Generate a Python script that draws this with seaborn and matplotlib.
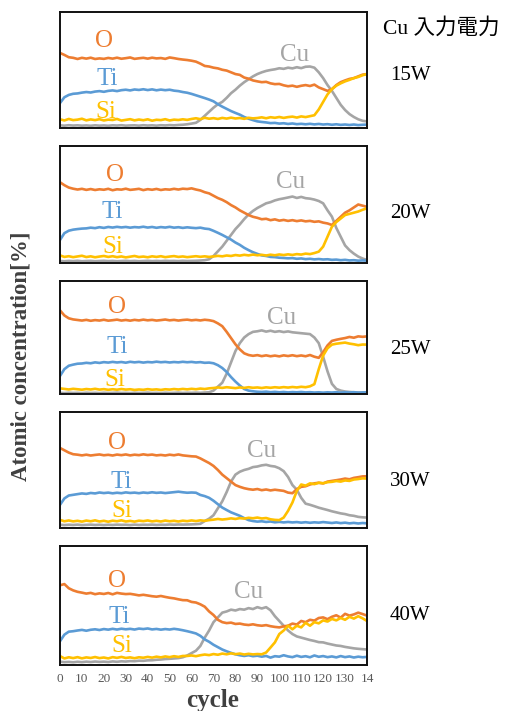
import matplotlib
matplotlib.use("Agg")
import matplotlib.pyplot as plt
import seaborn as sns
import pandas as pd

# ---------------- data (every 2 cycles) ----------------
cycles = list(range(0, 141, 2))
panel_names = ["15W", "20W", "25W", "30W", "40W"]
elements = ["Cu", "O", "Ti", "Si"]
xtick_vals = [0, 10, 20, 30, 40, 50, 60, 70, 80, 90, 100, 110, 120, 130, 140]
xtick_labels = ["0", "10", "20", "30", "40", "50", "60", "70", "80", "90",
                "100", "110", "120", "130", "14"]

O_15W = [64.7, 63, 61, 60.5, 59.5, 60.5, 59.8, 60.6, 59.5, 60, 59.6, 60.4, 59.8, 60.6, 59.7, 60.2, 60.8, 59.6,
         60.1, 60.5, 59.8, 60.6, 60, 60.3, 59.6, 60.8, 60.2, 59.5, 59, 58.6, 58, 57.2, 55.5, 53.5, 53, 52,
         51.4, 50.2, 49.5, 48, 46.5, 45.8, 43.5, 42.5, 41, 40.2, 39.5, 39.8, 38.5, 37.8, 38, 36.8, 36, 36.5,
         35.5, 36.4, 37, 36.2, 37.4, 35, 33.5, 32, 33.5, 37, 39.5, 41, 42.3, 43, 44.5, 46, 46.5]
Ti_15W = [21.5, 26.5, 28.5, 29.5, 29.8, 30.5, 31, 30.6, 31.4, 31.8, 31.2, 32, 32.4, 31.8, 32.6, 33, 32.4, 33.2,
          32.8, 33.4, 32.7, 33.3, 32.5, 33.1, 32.6, 33, 32.2, 31.8, 31, 30.4, 29.4, 28.2, 27, 25.8, 24.5, 23,
          20.5, 18.4, 16.5, 14.6, 13, 11.5, 9.5, 8, 6.8, 5.7, 5.2, 4.8, 4.2, 4.4, 3.8, 4.1, 3.5, 3.9,
          3.3, 3.6, 3.2, 3.6, 3.1, 3.5, 3, 3.3, 2.8, 3.2, 2.7, 3, 2.6, 3, 2.5, 2.8, 2.9]
Si_15W = [7.5, 6.5, 7.8, 6.8, 7.2, 8, 6.6, 7.4, 6.8, 7.6, 6.5, 7.2, 6.9, 7.8, 6.4, 7, 7.6, 6.6,
          7.3, 6.7, 7.5, 6.3, 7.1, 6.8, 7.6, 6.5, 7.2, 6.9, 7.5, 7, 7.8, 8.4, 7.6, 8.8, 8, 8.5,
          7.8, 8.7, 8.1, 8.9, 8.2, 8.6, 7.9, 8.8, 8.3, 8.6, 9.2, 8.4, 9.3, 8.8, 9.5, 8.7, 9.4, 9.8,
          9, 10, 9.4, 10.2, 11, 16, 22.5, 29, 33.5, 36.5, 38.5, 40.2, 41.5, 43, 44, 45.5, 46.5]
Cu_15W = [2.3, 2, 2.4, 2.1, 2.3, 2, 2.2, 1.9, 2.3, 2, 2.2, 1.9, 2.3, 2.1, 2.4, 2, 2.2, 2.3,
          2, 2.4, 2.1, 2.3, 2, 2.4, 2.2, 2.5, 2.3, 2.6, 2.8, 3.2, 3.8, 4.5, 7, 10.5, 14, 17.5,
          20.5, 22.5, 26, 30, 33, 36.5, 39.5, 42, 44.5, 46.5, 48, 49.2, 50, 50.6, 51.5, 51, 52, 51.4,
          52.4, 51.6, 52.8, 53, 52, 48, 43, 37, 32, 26, 20, 15.5, 12, 9.5, 7.5, 6.2, 5.7]

O_20W = [69, 66.5, 64.5, 63.5, 62.8, 63.4, 62.5, 63.2, 62.4, 63, 62.6, 63.4, 62.2, 63, 62.7, 63.5, 62.5, 62.9,
         63.4, 62.3, 63.1, 62.6, 63.3, 62.4, 63, 62.7, 63.4, 62.8, 63.5, 63.2, 63.8, 62.8, 62, 60.5, 59.5, 57.5,
         55.5, 54, 52, 49.5, 47.5, 45, 43, 41, 39.5, 38.6, 37.4, 37.8, 36.6, 37.3, 36.2, 36.8, 36, 36.6,
         35.8, 36.4, 35.6, 36, 35.2, 35.6, 34.5, 33.8, 32.5, 36, 39.5, 43, 45, 47.5, 50, 49, 48]
Ti_20W = [19.7, 25.5, 27.6, 28.5, 29, 29.4, 29.6, 30.2, 29.8, 30.6, 30, 30.8, 30.3, 30.9, 30.4, 30.8, 30.2, 30.7,
          30.4, 31, 30.3, 30.8, 30.1, 30.7, 30.3, 30.9, 30.2, 30.6, 30, 30.5, 30.1, 29.8, 30.2, 29.4, 29, 27.5,
          25.8, 24, 22, 20, 17.5, 15.5, 13, 11, 9.2, 7.8, 6.5, 6, 5.2, 5, 4.5, 4.3, 4, 4.2,
          3.6, 3.9, 3.3, 3.6, 3.1, 3.4, 3, 3.2, 2.7, 2.9, 2.4, 2.7, 2.2, 2.4, 2, 2.2, 2]
Si_20W = [6.5, 5.2, 5.8, 5, 5.6, 6.2, 5.1, 5.7, 4.9, 5.5, 6, 5.2, 5.8, 5, 5.6, 4.8, 5.4, 6,
          5.1, 5.5, 4.9, 5.7, 5.2, 5.8, 5, 5.5, 5.9, 5.2, 5.6, 5, 5.4, 5.8, 5.3, 5.7, 5.2, 5.6,
          6.1, 5.7, 6.4, 6, 6.8, 6.3, 7, 6.5, 7.2, 6.6, 7, 6.4, 7.1, 6.6, 7.3, 6.8, 7.4, 6.9,
          7.6, 7.2, 8, 7.6, 8.5, 9.7, 14, 22.5, 31, 35, 38, 41, 42, 43, 44, 45.5, 46.7]
Cu_20W = [1.7, 1.5, 1.8, 1.6, 1.9, 1.5, 1.7, 1.8, 1.5, 1.7, 1.9, 1.6, 1.8, 1.5, 1.7, 1.9, 1.6, 1.8,
          1.5, 1.7, 1.9, 1.6, 1.8, 1.6, 1.9, 1.7, 1.8, 1.6, 1.9, 1.7, 1.8, 1.9, 2.1, 2.4, 3.2, 6,
          10, 14, 19, 24, 29, 33, 37.5, 41.5, 44.5, 47, 49, 51, 52, 53.5, 54.5, 55.2, 56, 56.8,
          55.6, 56.5, 55.4, 55, 54.2, 53, 51, 45, 39.6, 30, 22.5, 15, 11, 8, 5.5, 3.8, 2.6]

O_25W = [74, 69.5, 67, 66, 65.5, 65, 65.6, 64.8, 65.4, 65, 65.7, 64.9, 65.3, 65.8, 65, 65.5, 64.9, 65.6,
         65.1, 65.8, 65.2, 65.6, 65, 65.4, 65.9, 65.2, 65.6, 65, 65.5, 65.8, 65.2, 65.6, 65.1, 65.7, 65.3, 64.5,
         62.5, 60, 55, 49.5, 44, 39.5, 36, 34.5, 33.8, 34.4, 33.5, 34.2, 33.4, 34, 33.3, 34.2, 33.6, 34.3,
         33.5, 34.1, 33.4, 34.5, 33, 32, 37, 43, 47, 48, 48.8, 49.5, 50.5, 49.8, 51, 50.6, 51]
Ti_25W = [16, 22, 25, 26, 26.8, 27, 27.6, 27.2, 28, 27.5, 28.2, 27.8, 28.4, 27.9, 28.3, 27.7, 28.5, 28,
          28.4, 27.8, 28.3, 28, 28.6, 28.1, 28.4, 27.9, 28.3, 28, 28.5, 28.1, 28.4, 27.9, 28.2, 27.6, 27.8, 27.2,
          25.5, 23, 19.5, 15, 11, 7.5, 4.4, 3, 2.4, 2, 1.8, 2.1, 1.6, 1.9, 1.5, 1.8, 1.4, 1.7,
          1.5, 1.8, 1.4, 1.6, 1.3, 1.5, 1.2, 1.5, 1.3, 1.6, 1.2, 1.5, 1.3, 1.6, 1.2, 1.4, 1.5]
Si_25W = [5, 4.5, 4, 4.6, 4.2, 3.8, 4.4, 4, 4.6, 3.9, 4.3, 3.7, 4.2, 3.8, 4.4, 3.9, 4.2, 3.6,
          4, 3.7, 4.3, 3.8, 4.1, 3.6, 4.2, 3.9, 4.4, 4, 4.5, 4.1, 4.6, 4.2, 4.8, 4.4, 5, 5.3,
          5.8, 5.4, 6, 5.6, 5.2, 5.8, 5.4, 6, 5.5, 5.8, 5.3, 5.9, 5.5, 6, 5.6, 6.1, 5.7, 6.2,
          5.8, 6.4, 6, 6.8, 8.7, 22, 34, 40.5, 43.7, 44.5, 45, 45.5, 44.6, 44, 43.2, 43.8, 43.7]
Cu_25W = [1, 0.8, 1.1, 0.9, 1, 0.8, 1.1, 0.9, 1, 0.8, 1.1, 0.9, 1, 1.2, 0.9, 1, 0.8, 1.1,
          0.9, 1, 1.2, 0.9, 1, 0.8, 1.1, 0.9, 1, 1.2, 0.9, 1.1, 1, 1.2, 1, 1.3, 1.5, 3,
          6.5, 10, 18, 28, 38, 45, 50, 53, 55, 55.5, 56.3, 55.2, 56, 55, 55.6, 54.8, 55.4, 54.6,
          54.2, 53.8, 53.4, 53, 50, 45, 33, 20, 9, 4.5, 3, 2.2, 1.8, 1.5, 1.3, 1.2, 1]

O_30W = [69, 67, 65, 63.6, 63.2, 62.6, 63.2, 62.5, 63, 63.4, 62.7, 63.1, 62.5, 63.3, 62.8, 63.4, 62.6, 63.2,
         62.8, 63.5, 62.9, 63.3, 62.6, 63, 62.5, 63.2, 62.7, 63.4, 62.6, 62.2, 61.8, 61.6, 60, 58, 56, 53.5,
         50, 46, 43, 40, 37, 35.5, 34.3, 33.5, 33, 33.6, 32.6, 33.2, 32.4, 33, 32.5, 32, 30.5, 30,
         33.5, 35.5, 36, 37.5, 38.5, 39, 38.4, 40, 40.6, 41.2, 41.8, 42.6, 42, 43.2, 43.8, 44.5, 44.6]
Ti_30W = [20, 25.5, 28, 28.6, 29.2, 29.8, 29.4, 30.2, 29.8, 30.6, 30.1, 30.5, 29.9, 30.4, 30, 30.7, 30.2, 30.5,
          30, 30.6, 30.2, 30.8, 30.3, 30.6, 30.1, 30.5, 30.9, 31.3, 30.8, 30.4, 30.6, 30.4, 28.5, 27.5, 26, 23.5,
          20.5, 17.6, 15.5, 13.5, 12, 10.5, 8.5, 6.8, 6, 5.5, 5.8, 5.2, 5.6, 4.9, 5.3, 4.8, 5.2, 4.8,
          5.1, 4.6, 5, 4.5, 4.9, 4.6, 5.1, 4.7, 4.3, 4.8, 4.2, 4.6, 4, 4.4, 3.9, 4.3, 4]
Si_30W = [7, 5.8, 6.5, 5.7, 6.2, 5.5, 6.4, 5.8, 6.6, 5.6, 6.2, 5.4, 6.3, 5.8, 6.6, 5.6, 6.1, 5.5,
          6.3, 5.9, 6.5, 5.7, 6.2, 5.6, 6.4, 5.8, 6.2, 5.6, 6.3, 5.9, 6.5, 6, 6.6, 6.2, 6.8, 7.2,
          7.8, 7.3, 7.7, 8.3, 7.8, 8.5, 8.1, 8.8, 8.4, 9, 8.2, 8.6, 7.5, 7, 6.8, 9, 14.8, 22,
          32, 37.5, 36.5, 38.5, 37.8, 39, 38.6, 39.5, 39.8, 40.5, 40, 41, 40.6, 41.8, 42.2, 42.8, 42.6]
Cu_30W = [2.8, 2.5, 2.8, 2.6, 2.9, 2.5, 2.7, 2.9, 2.6, 2.8, 2.5, 2.8, 2.6, 2.9, 2.7, 2.8, 2.5, 2.9,
          2.6, 2.8, 2.7, 2.9, 2.6, 2.8, 2.7, 3, 2.8, 3, 2.9, 3, 3.1, 3.3, 3.6, 6, 8, 11,
          17, 23, 31, 40, 46, 48.5, 50, 51, 52.5, 53, 54, 54.5, 53.5, 53, 51.5, 49, 44, 37,
          33, 26, 21, 20, 18.8, 17.5, 16.5, 15.5, 14.4, 13.5, 12.6, 12, 11, 10.5, 9.6, 9.2, 9]

O_40W = [67, 68, 64.5, 62.7, 61.5, 60.8, 60, 60.6, 59.5, 60.2, 59.7, 60.5, 59.4, 60.6, 60, 59.6, 59.8, 59.2,
         58.5, 59, 58.4, 57.8, 57.4, 58, 57.2, 56.5, 56, 55.2, 54.5, 54.4, 53, 52.5, 51, 49, 45, 42,
         38, 36, 35.2, 35.6, 34.5, 34.8, 34, 33.6, 34.2, 33.4, 33, 33.5, 32.6, 32, 31.6, 32.5, 33, 34.8,
         34, 37, 36, 38, 37.3, 39.5, 40, 38.5, 40.5, 41.8, 39.8, 43, 41.5, 42.5, 44, 42.8, 41.5]
Ti_40W = [20, 25.5, 28, 28.4, 29, 29.5, 28.8, 29.6, 30, 29.4, 30.2, 29.7, 30.4, 29.8, 30.5, 30, 30.4, 29.8,
          30.6, 30.2, 30.7, 29.9, 30.3, 29.7, 30.2, 29.8, 30.4, 29.9, 29.2, 28.4, 27.5, 26.5, 24.5, 21.5, 19.5, 17,
          15, 13, 11.5, 10.2, 9, 8.2, 7.6, 8.2, 7.4, 7.8, 7, 7.6, 6.2, 7.4, 7, 8.2, 7.2, 6.6,
          7.8, 6.8, 7.4, 6.5, 8, 6.9, 7.5, 6.6, 7.2, 6.4, 7.5, 6.6, 7.2, 6.3, 7, 6.5, 6.8]
Si_40W = [7.5, 5.5, 6.5, 5.8, 6.6, 5.6, 6.4, 5.9, 6.7, 5.8, 6.3, 5.5, 6.6, 6, 6.8, 5.9, 6.4, 5.7,
          6.5, 6.1, 6.8, 6.2, 7, 6.4, 7.2, 6.6, 7.4, 6.8, 7.6, 7.6, 8, 7.4, 8.2, 8.8, 8.3, 9.2,
          8.6, 9.6, 9, 9.8, 9.1, 9.6, 8.8, 9.4, 8.9, 9.2, 9, 10.5, 14.7, 19, 26, 29, 33, 30,
          33, 31.6, 35.5, 33, 36, 35, 37.5, 36.5, 38.7, 37.5, 39.5, 38, 40.5, 39, 41, 39.2, 37]
Cu_40W = [2.8, 2.4, 2.6, 2.3, 2.7, 2.4, 2.8, 2.5, 2.9, 2.6, 2.8, 2.5, 3, 2.7, 3.1, 2.9, 3.3, 3.2,
          3.6, 3.5, 3.9, 4, 4.4, 4.6, 5, 5.2, 5.5, 5.8, 6.5, 8, 10, 12, 16, 23, 29, 36,
          40, 44, 45, 46.5, 45.8, 47, 46.5, 47.8, 47, 48.6, 47.5, 48.6, 46, 41, 37, 33, 29, 26,
          24, 23, 22, 21, 20.2, 19.2, 19, 18, 17.2, 16.4, 16, 15.2, 14.6, 14, 13.6, 13.3, 13]

panel_series = {
    "15W": {"O": O_15W, "Ti": Ti_15W, "Si": Si_15W, "Cu": Cu_15W},
    "20W": {"O": O_20W, "Ti": Ti_20W, "Si": Si_20W, "Cu": Cu_20W},
    "25W": {"O": O_25W, "Ti": Ti_25W, "Si": Si_25W, "Cu": Cu_25W},
    "30W": {"O": O_30W, "Ti": Ti_30W, "Si": Si_30W, "Cu": Cu_30W},
    "40W": {"O": O_40W, "Ti": Ti_40W, "Si": Si_40W, "Cu": Cu_40W},
}

# label anchor positions (cycle, value) for the in-plot element names
label_pos = {
    "15W": {"O": (20, 75), "Ti": (21.5, 42.5), "Si": (21, 14), "Cu": (107, 63)},
    "20W": {"O": (25, 75), "Ti": (24, 44), "Si": (24, 14), "Cu": (105, 69)},
    "25W": {"O": (26, 77), "Ti": (26, 42), "Si": (25, 12), "Cu": (101, 67)},
    "30W": {"O": (26, 73), "Ti": (28, 40), "Si": (28, 15), "Cu": (92, 66)},
    "40W": {"O": (26, 71), "Ti": (27, 40), "Si": (28, 16), "Cu": (86, 61)},
}

colors = {"O": "#ED7D31", "Ti": "#5B9BD5", "Si": "#FFC000", "Cu": "#A5A5A5"}

# ---------------- drawing ----------------
sns.set_style("white")
plt.rcParams["font.family"] = ["Liberation Serif", "Noto Sans CJK JP", "DejaVu Sans"]

W, H = 509, 711
fig = plt.figure(figsize=(W / 100, H / 100), dpi=100)

# panel pixel boxes (top, bottom)
boxes = [(12, 128), (146, 263), (281, 394), (412, 528), (546, 665)]
x0, x1 = 60, 367
right_label_y = [75, 213, 350, 481, 615]

for i, name in enumerate(panel_names):
    top, bot = boxes[i]
    ax = fig.add_axes([x0 / W, 1 - bot / H, (x1 - x0) / W, (bot - top) / H])
    rows = []
    for el in elements:
        for c, v in zip(cycles, panel_series[name][el]):
            rows.append({"cycle": c, "value": v, "element": el})
    df = pd.DataFrame(rows)
    sns.lineplot(data=df, x="cycle", y="value", hue="element", hue_order=elements,
                 palette=colors, linewidth=1.9, legend=False, ax=ax)
    ax.set_xlim(0, 140)
    ax.set_ylim(0, 100)
    ax.set_yticks([])
    ax.set_xlabel("")
    ax.set_ylabel("")
    for s in ax.spines.values():
        s.set_color("#111111")
        s.set_linewidth(1.4)
    if i == len(panel_names) - 1:
        ax.set_xticks(xtick_vals)
        ax.set_xticklabels(xtick_labels, fontsize=9.5, color="#595959")
        ax.tick_params(axis="x", length=0, pad=6)
    else:
        ax.set_xticks([])
    for el in ["O", "Ti", "Si", "Cu"]:
        px, py = label_pos[name][el]
        ax.text(px, py, el, color=colors[el], fontsize=18, ha="center", va="center")
    fig.text(410 / W, 1 - right_label_y[i] / H, name, fontsize=15, ha="center", va="center",
             color="black")

fig.text(441 / W, 1 - 28 / H, "Cu 入力電力", fontsize=15.5, ha="center", va="center",
         color="black")
fig.text(21 / W, 1 - 356 / H, "Atomic concentration[%]", rotation=90, fontsize=16.5,
         fontweight="bold", ha="center", va="center", color="#404040")
fig.text(213 / W, 1 - 700 / H, "cycle", fontsize=18, fontweight="bold",
         ha="center", va="center", color="#404040")

fig.savefig("out.png", dpi=100)
